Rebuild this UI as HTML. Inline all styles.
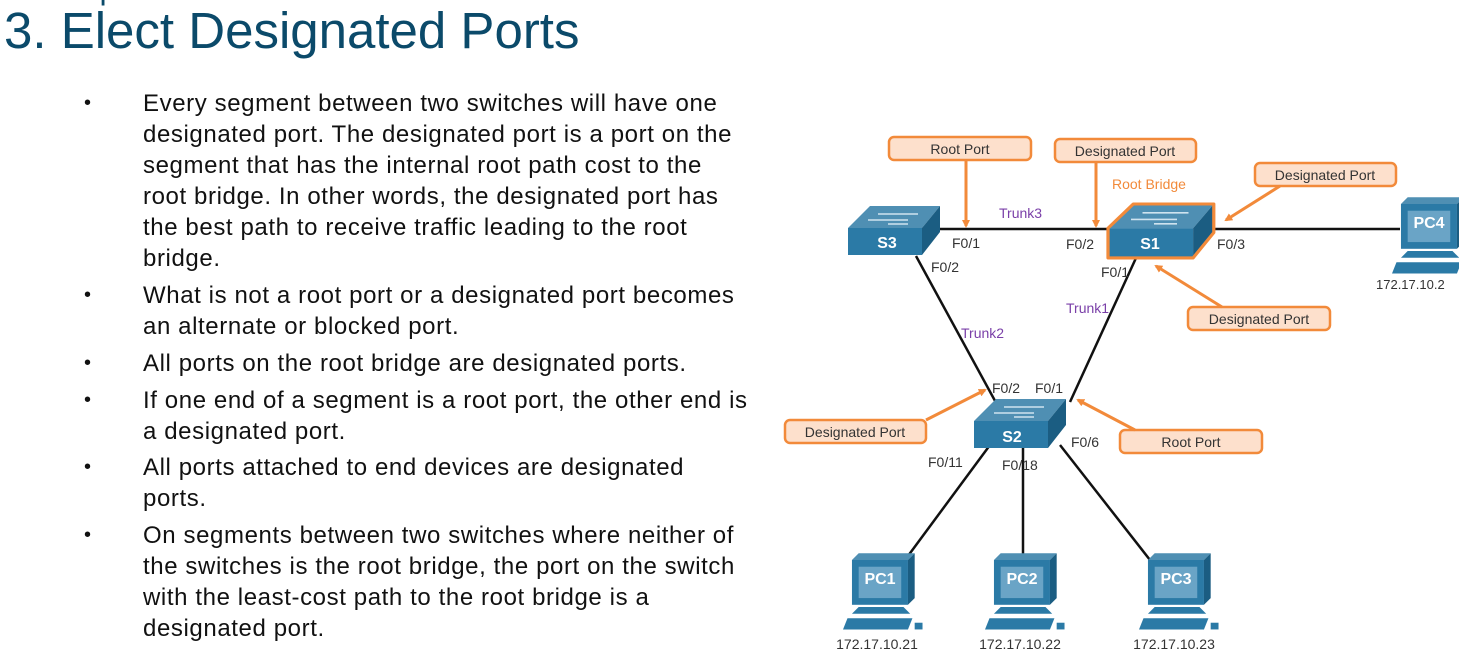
<!DOCTYPE html>
<html><head><meta charset="utf-8"><style>
body{margin:0;width:1459px;height:665px;overflow:hidden;background:#fff;font-family:"Liberation Sans",sans-serif;position:relative}
.t{position:absolute;color:#0b4a6a}
.b{position:absolute;left:143px;font-size:24px;letter-spacing:0.6px;line-height:31px;color:#111;width:608px}
.d{position:absolute;left:84px;font-size:20px;color:#111}
</style></head><body>
<div class="t" style="left:4px;top:-30px;font-size:32px">STP Operations</div>
<div class="t" style="left:4px;top:1px;font-size:51px">3. Elect Designated Ports</div>
<div class="d" style="top:92px">•</div>
<div class="b" style="top:88px">Every segment between two switches will have one designated port. The designated port is a port on the segment that has the internal root path cost to the root bridge. In other words, the designated port has the best path to receive traffic leading to the root bridge.</div>
<div class="d" style="top:284px">•</div>
<div class="b" style="top:280px">What is not a root port or a designated port becomes an alternate or blocked port.</div>
<div class="d" style="top:352px">•</div>
<div class="b" style="top:348px">All ports on the root bridge are designated ports.</div>
<div class="d" style="top:389px">•</div>
<div class="b" style="top:385px">If one end of a segment is a root port, the other end is a designated port.</div>
<div class="d" style="top:456px">•</div>
<div class="b" style="top:452px">All ports attached to end devices are designated ports.</div>
<div class="d" style="top:524px">•</div>
<div class="b" style="top:520px">On segments between two switches where neither of the switches is the root bridge, the port on the switch with the least-cost path to the root bridge is a designated port.</div>

<svg width="1459" height="665" style="position:absolute;left:0;top:0" font-family="Liberation Sans, sans-serif">
<defs>
<marker id="a" markerWidth="8" markerHeight="8" refX="6" refY="4" orient="auto" markerUnits="userSpaceOnUse" viewBox="0 0 8 8"><path d="M0,0 L8,4 L0,8 z" fill="#f28a3a"/></marker>
<g id="pc">
<path d="M8,0 L58,0 L64,-6 L14,-6 z" fill="#4f8fb3"/>
<rect x="8" y="0" width="50" height="40" fill="#2b7aa6"/>
<path d="M58,0 L64,-6 L64,34 L58,40 z" fill="#1b5d82"/>
<rect x="14" y="6" width="38" height="28" fill="#6aa4c6"/>
<path d="M14,42 L54,42 L60,48 L8,48 z" fill="#2b7aa6"/>
<path d="M4,52 L62,52 L58,62 L0,62 z" fill="#2b7aa6"/>
<rect x="64" y="56" width="7" height="6" fill="#2b7aa6"/>
</g>
<g id="sw">
<path d="M0,22 L22,0 L92,0 L74,22 z" fill="#4f8fb3"/>
<rect x="0" y="22" width="74" height="27" fill="#2b7aa6"/>
<path d="M74,22 L92,0 L92,26 L74,49 z" fill="#1b5d82"/>
<path d="M30,8 h40 M20,14 h40 M40,18 h20" stroke="#cfe3ef" stroke-width="1.5"/>
</g>
</defs>
<g stroke="#111" stroke-width="2.5">
<line x1="920" y1="229" x2="1110" y2="229"/>
<line x1="1215" y1="229" x2="1400" y2="229"/>
<line x1="916" y1="256" x2="1000" y2="410"/>
<line x1="1136" y1="258" x2="1070" y2="402"/>
<line x1="990" y1="445" x2="905" y2="560"/>
<line x1="1023" y1="445" x2="1023" y2="556"/>
<line x1="1060" y1="445" x2="1150" y2="560"/>
</g>
<g transform="translate(848,206) scale(1.0,1.0)"><use href="#sw"/></g>
<g transform="translate(1108,204) scale(1.15,1.1)">
<use href="#sw"/>
<path d="M0,22 L22,0 L92,0 L92,26 L74,49 L0,49 z" fill="none" stroke="#f28a3a" stroke-width="2.8" stroke-linejoin="round"/>
</g>
<use href="#sw" x="974" y="399"/>
<g fill="#fff" font-weight="bold" font-size="16" text-anchor="middle">
<text x="887" y="248">S3</text><text x="1150" y="249">S1</text><text x="1012" y="442">S2</text>
</g>
<g transform="translate(843,560) scale(1.12)"><use href="#pc"/></g>
<g transform="translate(985,560) scale(1.12)"><use href="#pc"/></g>
<g transform="translate(1139,560) scale(1.12)"><use href="#pc"/></g>
<g transform="translate(1392,204) scale(1.12)"><use href="#pc"/></g>
<g fill="#fff" font-weight="bold" font-size="16" text-anchor="middle">
<text x="880" y="584">PC1</text><text x="1022" y="584">PC2</text><text x="1176" y="584">PC3</text><text x="1429" y="228">PC4</text>
</g>
<g fill="#333" font-size="14" text-anchor="middle">
<text x="877" y="649">172.17.10.21</text><text x="1020" y="649">172.17.10.22</text><text x="1174" y="649">172.17.10.23</text><text x="1376" y="289" text-anchor="start" font-size="13">172.17.10.2</text>
</g>
<g fill="#333" font-size="14">
<text x="952" y="248">F0/1</text><text x="931" y="272">F0/2</text><text x="1066" y="249">F0/2</text><text x="1101" y="277">F0/1</text><text x="1217" y="249">F0/3</text>
<text x="992" y="393">F0/2</text><text x="1035" y="393">F0/1</text><text x="1071" y="447">F0/6</text><text x="928" y="467">F0/11</text><text x="1002" y="470">F0/18</text>
</g>
<g fill="#7a3fa8" font-size="14">
<text x="999" y="218">Trunk3</text><text x="961" y="338">Trunk2</text><text x="1066" y="313">Trunk1</text>
</g>
<text x="1112" y="189" fill="#f28a3a" font-size="14">Root Bridge</text>
<g fill="#fde0cc" stroke="#f28a3a" stroke-width="2.5">
<rect x="889" y="137" width="142" height="23" rx="5"/>
<rect x="1055" y="139" width="141" height="23" rx="5"/>
<rect x="1255" y="163" width="141" height="23" rx="5"/>
<rect x="1188" y="307" width="142" height="23" rx="5"/>
<rect x="785" y="420" width="141" height="23" rx="5"/>
<rect x="1120" y="430" width="142" height="23" rx="5"/>
</g>
<g fill="#333" font-size="14" text-anchor="middle">
<text x="960" y="154">Root Port</text><text x="1125" y="156">Designated Port</text><text x="1325" y="180">Designated Port</text>
<text x="1259" y="324">Designated Port</text><text x="855" y="437">Designated Port</text><text x="1191" y="447">Root Port</text>
</g>
<g stroke="#f28a3a" stroke-width="3" fill="none" marker-end="url(#a)">
<line x1="966" y1="160" x2="966" y2="226"/>
<line x1="1096" y1="162" x2="1096" y2="226"/>
<line x1="1280" y1="186" x2="1226" y2="220"/>
<line x1="1222" y1="307" x2="1156" y2="266"/>
<line x1="926" y1="420" x2="985" y2="390"/>
<line x1="1135" y1="430" x2="1078" y2="400"/>
</g>
</svg>
</body></html>
